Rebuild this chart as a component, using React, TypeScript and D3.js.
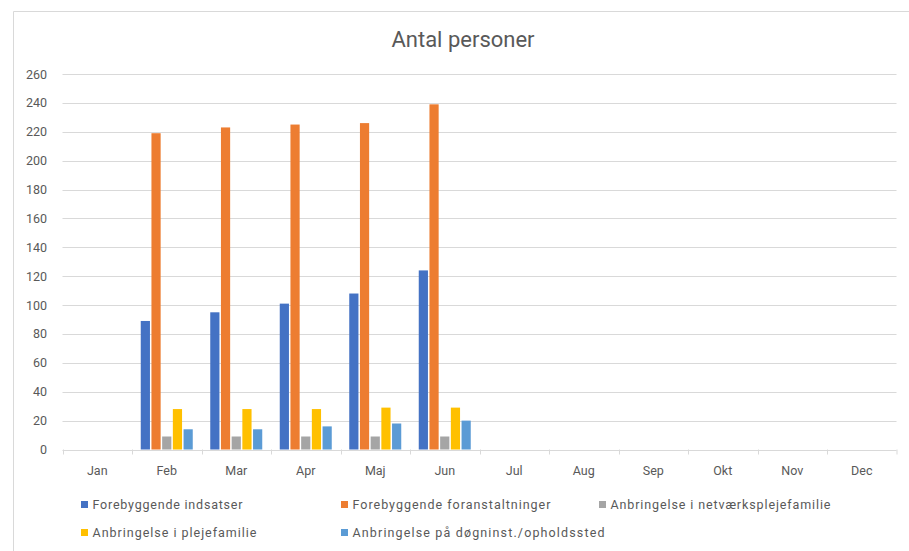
import React from "react";
import * as d3 from "d3";

const months = ["Jan", "Feb", "Mar", "Apr", "Maj", "Jun", "Jul", "Aug", "Sep", "Okt", "Nov", "Dec"];
const seriesNames = [
  "Forebyggende indsatser",
  "Forebyggende foranstaltninger",
  "Anbringelse i netværksplejefamilie",
  "Anbringelse i plejefamilie",
  "Anbringelse på døgninst./opholdssted",
];
const colors = ["#4472C4", "#ED7D31", "#A5A5A5", "#FFC000", "#5B9BD5"];
const forebyggendeIndsatser = [null, 89, 95, 101, 108, 124, null, null, null, null, null, null];
const forebyggendeForanstaltninger = [null, 219, 223, 225, 226, 239, null, null, null, null, null, null];
const netvaerksplejefamilie = [null, 9, 9, 9, 9, 9, null, null, null, null, null, null];
const plejefamilie = [null, 28, 28, 28, 29, 29, null, null, null, null, null, null];
const doegninst = [null, 14, 14, 16, 18, 20, null, null, null, null, null, null];
const yTicks = [0, 20, 40, 60, 80, 100, 120, 140, 160, 180, 200, 220, 240, 260];

const allSeries = [forebyggendeIndsatser, forebyggendeForanstaltninger, netvaerksplejefamilie, plejefamilie, doegninst];

// legend layout (marker position, rendered text width)
const legendLayout = [
  { x: 81, y: 501, w: 150 },
  { x: 341, y: 501, w: 198 },
  { x: 599, y: 501, w: 220 },
  { x: 81, y: 529, w: 164 },
  { x: 341, y: 529, w: 252 },
];

export default function App() {
  const W = 909, H = 551;
  const left = 62.5, right = 896.5, top = 74, bottom = 449.5;
  const x0 = d3.scaleBand<string>().domain(months).range([left, right]).paddingInner(0).paddingOuter(0);
  const groupW = 53.5;
  const x1 = d3.scaleBand<string>().domain(seriesNames).range([-groupW / 2, groupW / 2]);
  const barW = x1.bandwidth() - 1.5;
  const y = d3.scaleLinear().domain([0, 260]).range([bottom, top]);
  const font = "Roboto, 'Open Sans', sans-serif";
  const txt = "#595959";
  return (
    <svg width={W} height={H} style={{ position: "absolute", left: 0, top: 0, background: "#fff" }}>
      <rect x={0} y={0} width={W} height={H} fill="#fff" />
      <path d={`M13.5,${H} V11.5 H${W}`} fill="none" stroke="#D9D9D9" strokeWidth={1} />
      <text x={463} y={47} textAnchor="middle" fontFamily={font} fontSize={22} fill={txt}>Antal personer</text>
      {yTicks.map((t) => (
        <g key={t}>
          <line x1={left} x2={right} y1={Math.round(y(t)) + 0.5} y2={Math.round(y(t)) + 0.5} stroke="#D9D9D9" strokeWidth={1} />
          <text x={47} y={y(t) + 4.5} textAnchor="end" fontFamily={font} fontSize={12.5} fill={txt}>{t}</text>
        </g>
      ))}
      {months.map((m) => (
        <g key={m}>
          <line x1={Math.round(x0(m)!) + 0.5} x2={Math.round(x0(m)!) + 0.5} y1={bottom} y2={bottom + 5} stroke="#D9D9D9" />
          <text x={x0(m)! + x0.bandwidth() / 2} y={bottom + 25} textAnchor="middle" fontFamily={font} fontSize={12.5} fill={txt}>{m}</text>
        </g>
      ))}
      <line x1={right + 0.5} x2={right + 0.5} y1={bottom} y2={bottom + 5} stroke="#D9D9D9" />
      {allSeries.map((vals, si) =>
        vals.map((v, mi) =>
          v == null ? null : (
            <rect
              key={`${si}-${mi}`}
              x={x0(months[mi])! + x0.bandwidth() / 2 + x1(seriesNames[si])! + 0.75}
              y={y(v)}
              width={barW}
              height={bottom - y(v)}
              fill={colors[si]}
            />
          )
        )
      )}
      {seriesNames.map((s, i) => (
        <g key={s}>
          <rect x={legendLayout[i].x} y={legendLayout[i].y} width={7} height={7} fill={colors[i]} />
          <text
            x={legendLayout[i].x + 11.5}
            y={legendLayout[i].y + 8}
            fontFamily={font}
            fontSize={12.5}
            fill={txt}
            textLength={legendLayout[i].w}
            lengthAdjust="spacing"
          >
            {s}
          </text>
        </g>
      ))}
    </svg>
  );
}
